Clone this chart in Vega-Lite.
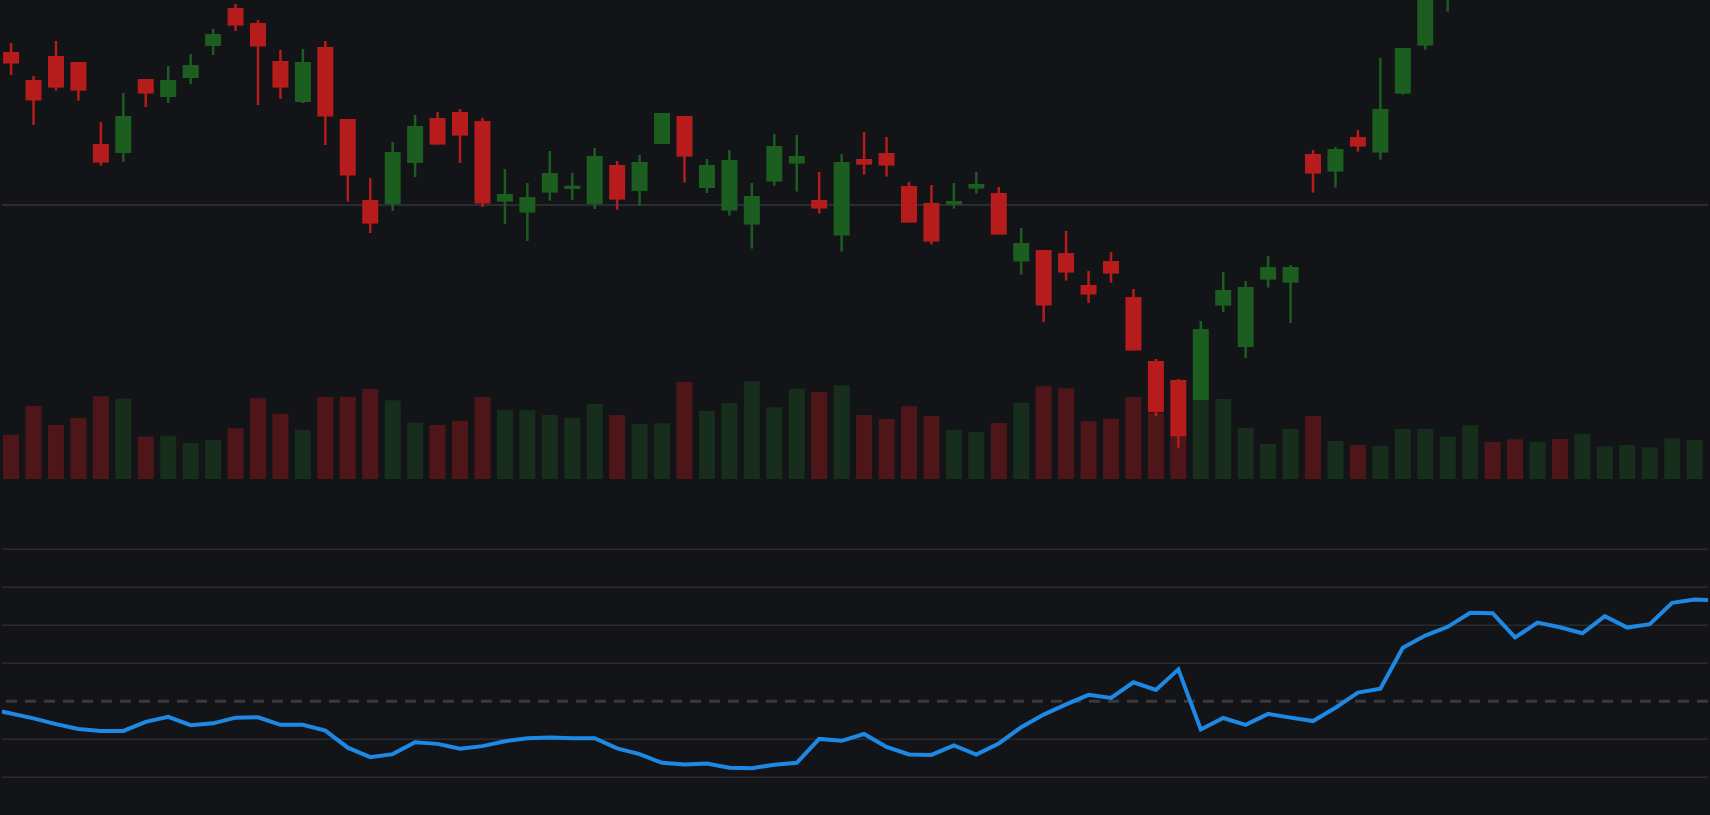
{
  "$schema": "https://vega.github.io/schema/vega-lite/v6.json",
  "background": "#131418",
  "padding": 0,
  "autosize": {"type": "fit", "contains": "padding"},
  "width": 1710,
  "height": 815,
  "config": {"view": {"stroke": null}},
  "datasets": {
    "bars": [
      {"idx": -1, "open": 117.20, "high": 118.30, "low": 116.90, "close": 117.80, "volume": 500000, "osc": -2.0},
      {"idx": 0, "open": 117.65, "high": 118.10, "low": 116.50, "close": 117.07, "volume": 443000, "osc": -3.2},
      {"idx": 1, "open": 116.25, "high": 116.45, "low": 114.00, "close": 115.22, "volume": 730000, "osc": -4.5},
      {"idx": 2, "open": 117.45, "high": 118.20, "low": 115.72, "close": 115.87, "volume": 540000, "osc": -6.0},
      {"idx": 3, "open": 117.15, "high": 117.15, "low": 115.22, "close": 115.72, "volume": 610000, "osc": -7.3},
      {"idx": 4, "open": 113.05, "high": 114.15, "low": 111.97, "close": 112.12, "volume": 827000, "osc": -7.8},
      {"idx": 5, "open": 112.60, "high": 115.60, "low": 112.15, "close": 114.45, "volume": 803000, "osc": -7.8},
      {"idx": 6, "open": 116.30, "high": 116.30, "low": 114.90, "close": 115.57, "volume": 423000, "osc": -5.4},
      {"idx": 7, "open": 115.40, "high": 116.95, "low": 115.10, "close": 116.25, "volume": 433000, "osc": -4.1},
      {"idx": 8, "open": 116.35, "high": 117.55, "low": 116.05, "close": 117.00, "volume": 360000, "osc": -6.3},
      {"idx": 9, "open": 117.95, "high": 118.80, "low": 117.50, "close": 118.55, "volume": 390000, "osc": -5.8},
      {"idx": 10, "open": 119.85, "high": 120.05, "low": 118.70, "close": 118.97, "volume": 507000, "osc": -4.3},
      {"idx": 11, "open": 119.10, "high": 119.25, "low": 115.00, "close": 117.92, "volume": 807000, "osc": -4.2},
      {"idx": 12, "open": 117.20, "high": 117.75, "low": 115.30, "close": 115.87, "volume": 653000, "osc": -6.2},
      {"idx": 13, "open": 115.15, "high": 117.80, "low": 115.10, "close": 117.15, "volume": 490000, "osc": -6.2},
      {"idx": 14, "open": 117.90, "high": 118.20, "low": 113.00, "close": 114.42, "volume": 820000, "osc": -7.7},
      {"idx": 15, "open": 114.30, "high": 114.30, "low": 110.17, "close": 111.47, "volume": 823000, "osc": -12.2},
      {"idx": 16, "open": 110.25, "high": 111.35, "low": 108.60, "close": 109.07, "volume": 900000, "osc": -14.7},
      {"idx": 17, "open": 110.05, "high": 113.15, "low": 109.70, "close": 112.65, "volume": 787000, "osc": -13.9},
      {"idx": 18, "open": 112.10, "high": 114.50, "low": 111.40, "close": 113.95, "volume": 563000, "osc": -10.8},
      {"idx": 19, "open": 114.35, "high": 114.65, "low": 113.02, "close": 113.02, "volume": 540000, "osc": -11.2},
      {"idx": 20, "open": 114.65, "high": 114.80, "low": 112.10, "close": 113.47, "volume": 583000, "osc": -12.5},
      {"idx": 21, "open": 114.20, "high": 114.35, "low": 109.90, "close": 110.07, "volume": 820000, "osc": -11.8},
      {"idx": 22, "open": 110.17, "high": 111.80, "low": 109.05, "close": 110.55, "volume": 690000, "osc": -10.5},
      {"idx": 23, "open": 109.62, "high": 111.10, "low": 108.20, "close": 110.40, "volume": 687000, "osc": -9.7},
      {"idx": 24, "open": 110.62, "high": 112.70, "low": 110.22, "close": 111.60, "volume": 640000, "osc": -9.5},
      {"idx": 25, "open": 110.80, "high": 111.60, "low": 110.25, "close": 110.97, "volume": 610000, "osc": -9.7},
      {"idx": 26, "open": 110.05, "high": 112.85, "low": 109.80, "close": 112.45, "volume": 750000, "osc": -9.7},
      {"idx": 27, "open": 112.00, "high": 112.20, "low": 109.77, "close": 110.27, "volume": 640000, "osc": -12.4},
      {"idx": 28, "open": 110.70, "high": 112.50, "low": 109.97, "close": 112.15, "volume": 550000, "osc": -13.9},
      {"idx": 29, "open": 113.05, "high": 114.60, "low": 113.05, "close": 114.60, "volume": 557000, "osc": -16.2},
      {"idx": 30, "open": 114.45, "high": 114.45, "low": 111.12, "close": 112.42, "volume": 970000, "osc": -16.6},
      {"idx": 31, "open": 110.85, "high": 112.30, "low": 110.60, "close": 112.00, "volume": 680000, "osc": -16.4},
      {"idx": 32, "open": 109.72, "high": 112.75, "low": 109.47, "close": 112.25, "volume": 760000, "osc": -17.5},
      {"idx": 33, "open": 109.02, "high": 111.10, "low": 107.82, "close": 110.45, "volume": 977000, "osc": -17.6},
      {"idx": 34, "open": 111.17, "high": 113.55, "low": 110.97, "close": 112.95, "volume": 717000, "osc": -16.7},
      {"idx": 35, "open": 112.07, "high": 113.50, "low": 110.67, "close": 112.45, "volume": 903000, "osc": -16.2},
      {"idx": 36, "open": 110.25, "high": 111.65, "low": 109.57, "close": 109.82, "volume": 870000, "osc": -9.9},
      {"idx": 37, "open": 108.47, "high": 112.55, "low": 107.67, "close": 112.15, "volume": 937000, "osc": -10.4},
      {"idx": 38, "open": 112.30, "high": 113.65, "low": 111.52, "close": 112.02, "volume": 640000, "osc": -8.6},
      {"idx": 39, "open": 112.60, "high": 113.40, "low": 111.42, "close": 111.97, "volume": 600000, "osc": -12.0},
      {"idx": 40, "open": 110.95, "high": 111.15, "low": 109.12, "close": 109.12, "volume": 727000, "osc": -14.0},
      {"idx": 41, "open": 110.10, "high": 111.00, "low": 108.02, "close": 108.17, "volume": 630000, "osc": -14.1},
      {"idx": 42, "open": 110.02, "high": 111.10, "low": 109.82, "close": 110.20, "volume": 490000, "osc": -11.6},
      {"idx": 43, "open": 110.82, "high": 111.65, "low": 110.57, "close": 111.05, "volume": 470000, "osc": -14.0},
      {"idx": 44, "open": 110.60, "high": 110.90, "low": 108.52, "close": 108.52, "volume": 560000, "osc": -11.1},
      {"idx": 45, "open": 107.17, "high": 108.85, "low": 106.52, "close": 108.10, "volume": 763000, "osc": -6.8},
      {"idx": 46, "open": 107.75, "high": 107.75, "low": 104.15, "close": 104.97, "volume": 927000, "osc": -3.5},
      {"idx": 47, "open": 107.60, "high": 108.70, "low": 106.22, "close": 106.62, "volume": 907000, "osc": -0.8},
      {"idx": 48, "open": 106.00, "high": 106.70, "low": 105.10, "close": 105.52, "volume": 577000, "osc": 1.7},
      {"idx": 49, "open": 107.20, "high": 107.65, "low": 106.12, "close": 106.57, "volume": 603000, "osc": 0.9},
      {"idx": 50, "open": 105.40, "high": 105.80, "low": 102.72, "close": 102.72, "volume": 820000, "osc": 5.0},
      {"idx": 51, "open": 102.20, "high": 102.30, "low": 99.45, "close": 99.65, "volume": 663000, "osc": 3.0},
      {"idx": 52, "open": 101.25, "high": 101.30, "low": 97.87, "close": 98.42, "volume": 423000, "osc": 8.4},
      {"idx": 53, "open": 100.25, "high": 104.20, "low": 100.25, "close": 103.80, "volume": 790000, "osc": -7.4},
      {"idx": 54, "open": 104.97, "high": 106.65, "low": 104.65, "close": 105.75, "volume": 800000, "osc": -4.4},
      {"idx": 55, "open": 102.90, "high": 106.20, "low": 102.35, "close": 105.90, "volume": 510000, "osc": -6.2},
      {"idx": 56, "open": 106.27, "high": 107.45, "low": 105.87, "close": 106.90, "volume": 350000, "osc": -3.3},
      {"idx": 57, "open": 106.12, "high": 107.00, "low": 104.10, "close": 106.90, "volume": 500000, "osc": -4.3},
      {"idx": 58, "open": 112.55, "high": 112.75, "low": 110.62, "close": 111.57, "volume": 630000, "osc": -5.2},
      {"idx": 59, "open": 111.67, "high": 112.90, "low": 110.87, "close": 112.80, "volume": 380000, "osc": -1.7},
      {"idx": 60, "open": 113.40, "high": 113.75, "low": 112.67, "close": 112.92, "volume": 340000, "osc": 2.3},
      {"idx": 61, "open": 112.62, "high": 117.35, "low": 112.27, "close": 114.80, "volume": 330000, "osc": 3.3},
      {"idx": 62, "open": 115.57, "high": 117.85, "low": 115.52, "close": 117.85, "volume": 500000, "osc": 14.1},
      {"idx": 63, "open": 117.97, "high": 120.65, "low": 117.77, "close": 120.50, "volume": 500000, "osc": 17.3},
      {"idx": 64, "open": 120.60, "high": 123.00, "low": 119.67, "close": 122.40, "volume": 423000, "osc": 19.6},
      {"idx": 65, "open": 122.30, "high": 124.60, "low": 121.90, "close": 124.00, "volume": 537000, "osc": 23.3},
      {"idx": 66, "open": 124.00, "high": 124.50, "low": 122.90, "close": 123.40, "volume": 370000, "osc": 23.2},
      {"idx": 67, "open": 123.40, "high": 123.60, "low": 121.30, "close": 121.80, "volume": 397000, "osc": 16.8},
      {"idx": 68, "open": 121.80, "high": 123.40, "low": 121.50, "close": 123.00, "volume": 373000, "osc": 20.7},
      {"idx": 69, "open": 123.00, "high": 123.30, "low": 122.10, "close": 122.50, "volume": 400000, "osc": 19.5},
      {"idx": 70, "open": 122.50, "high": 123.20, "low": 122.00, "close": 122.80, "volume": 453000, "osc": 17.9},
      {"idx": 71, "open": 122.80, "high": 124.40, "low": 122.60, "close": 124.10, "volume": 327000, "osc": 22.4},
      {"idx": 72, "open": 123.40, "high": 124.00, "low": 123.10, "close": 123.70, "volume": 340000, "osc": 19.4},
      {"idx": 73, "open": 123.70, "high": 124.30, "low": 123.50, "close": 124.00, "volume": 317000, "osc": 20.3},
      {"idx": 74, "open": 124.00, "high": 125.50, "low": 123.80, "close": 125.20, "volume": 407000, "osc": 25.9},
      {"idx": 75, "open": 125.20, "high": 125.90, "low": 124.90, "close": 125.60, "volume": 390000, "osc": 26.8},
      {"idx": 76, "open": 125.60, "high": 125.80, "low": 125.00, "close": 125.30, "volume": 350000, "osc": 26.6}
    ]
  },
  "data": {"name": "bars"},
  "encoding": {
    "x": {"field": "idx", "type": "quantitative", "axis": null,
          "scale": {"domain": [-0.4044, 75.5956], "nice": false, "zero": false, "padding": 0}}
  },
  "layer": [
    {
      "mark": {"type": "bar", "width": 16, "opacity": 0.36, "clip": true},
      "encoding": {
        "y": {"field": "volume", "type": "quantitative", "axis": null,
              "scale": {"domain": [-3360000, 4790000], "nice": false, "zero": false}},
        "y2": {"datum": 0},
        "color": {"condition": {"test": "datum.close >= datum.open", "value": "#1b5e20"}, "value": "#b71c1c"}
      }
    },
    {
      "layer": [
        {
          "data": {"values": [{"level": 110}]},
          "mark": {"type": "rule", "color": "#2c2c30", "strokeWidth": 2},
          "encoding": {
            "x": null,
            "y": {"field": "level", "type": "quantitative"}
          }
        },
        {
          "mark": {"type": "rule", "strokeWidth": 2.5, "clip": true},
          "encoding": {
            "y": {"field": "low", "type": "quantitative"},
            "y2": {"field": "high"},
            "color": {"condition": {"test": "datum.close >= datum.open", "value": "#1b5e20"}, "value": "#b71c1c"}
          }
        },
        {
          "mark": {"type": "bar", "width": 16, "clip": true},
          "encoding": {
            "y": {"field": "open", "type": "quantitative"},
            "y2": {"field": "close"},
            "color": {"condition": {"test": "datum.close >= datum.open", "value": "#1b5e20"}, "value": "#b71c1c"}
          }
        }
      ],
      "encoding": {
        "y": {"type": "quantitative", "axis": null,
              "scale": {"domain": [79.5, 120.25], "nice": false, "zero": false}}
      }
    },
    {
      "layer": [
        {
          "data": {"values": [{"g": 40}, {"g": 30}, {"g": 20}, {"g": 10}, {"g": -10}, {"g": -20}]},
          "mark": {"type": "rule", "color": "#2a2a2e", "strokeWidth": 1.5},
          "encoding": {"x": null, "y": {"field": "g", "type": "quantitative"}}
        },
        {
          "data": {"values": [{"g": 0}]},
          "mark": {"type": "rule", "color": "#3a3a3d", "strokeWidth": 3, "strokeDash": [11, 8]},
          "encoding": {"x": null, "y": {"field": "g", "type": "quantitative"}}
        },
        {
          "mark": {"type": "line", "color": "#1e88e5", "strokeWidth": 4, "clip": true},
          "encoding": {"y": {"field": "osc", "type": "quantitative"}}
        }
      ],
      "encoding": {
        "y": {"type": "quantitative", "axis": null,
              "scale": {"domain": [-29.92, 184.55], "nice": false, "zero": false}}
      }
    }
  ],
  "resolve": {"scale": {"y": "independent"}}
}
